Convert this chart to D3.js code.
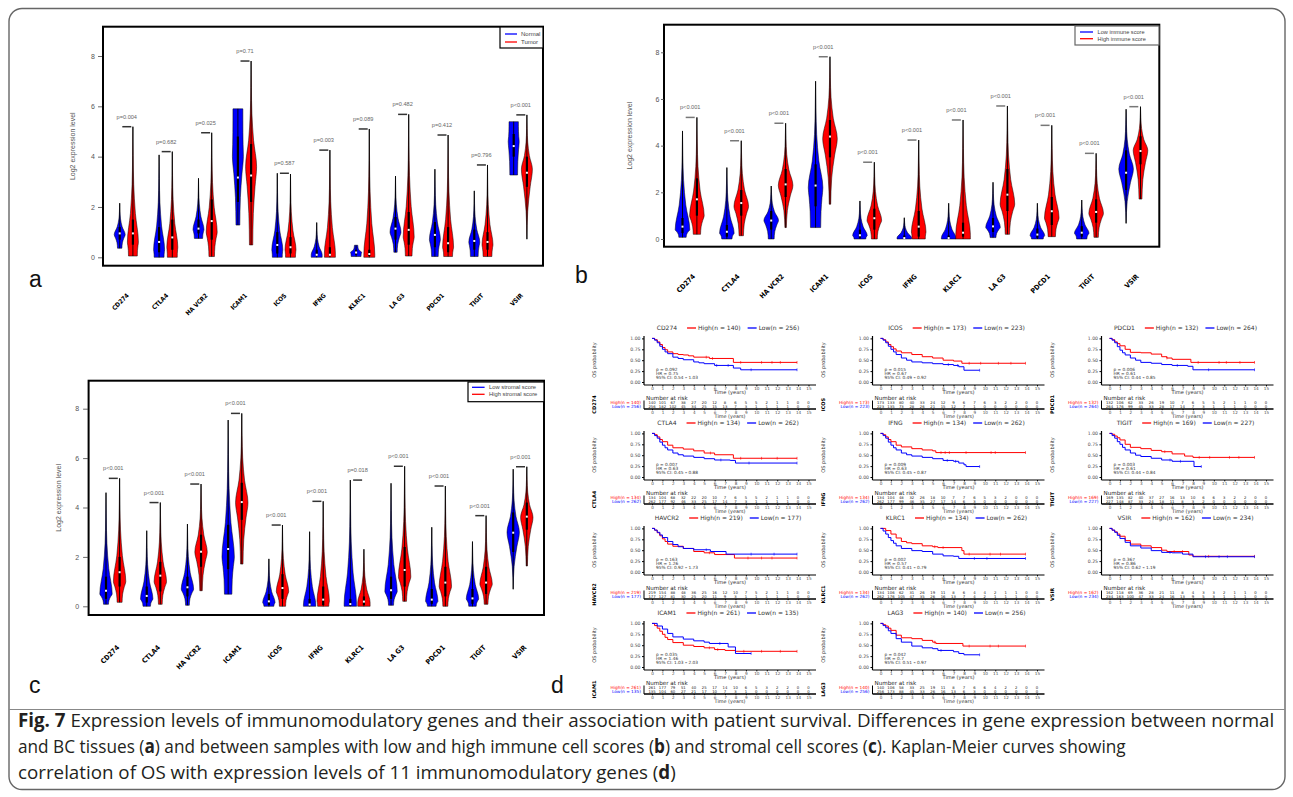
<!DOCTYPE html>
<html>
<head>
<meta charset="utf-8">
<title>Fig. 7</title>
<script src="https://cdn.jsdelivr.net/npm/d3@7"></script>
<style>
  body { margin: 0; background: #fff; }
  svg { display: block; }
</style>
</head>
<body>
<svg id="fig" width="1293" height="797"></svg>
<script>
// ---------- data ----------
const genes = ["CD274", "CTLA4", "HAVCR2", "ICAM1", "ICOS", "IFNG", "KLRC1", "LAG3", "PDCD1", "TIGIT", "VSIR"];
const geneTicks = ["CD274", "CTLA4", "HA VCR2", "ICAM1", "ICOS", "IFNG", "KLRC1", "LA G3", "PDCD1", "TIGIT", "VSIR"];
const yTicks = [0, 2, 4, 6, 8];

// violin stats: [min, q1, median, q3, max, mode, base width, top width]
const normalA = [
  [0.36, 0.7, 0.95, 1.2, 2.15, 0.9, 0.4, 0], [0.0, 0.2, 0.61, 1.2, 4.07, 0.3, 0.9, 0],
  [0.75, 0.95, 1.14, 1.5, 3.14, 1.1, 0.75, 0], [1.28, 2.2, 3.17, 4.8, 5.9, 4.0, 0.35, 0.9],
  [0.0, 0.15, 0.49, 1.0, 3.34, 0.3, 0.9, 0], [0.0, 0.05, 0.1, 0.3, 1.38, 0.1, 1, 0],
  [0.03, 0.1, 0.19, 0.3, 0.48, 0.2, 0.9, 0.3], [0.2, 0.7, 1.14, 1.6, 3.23, 1.0, 0.3, 0],
  [0.03, 0.4, 0.89, 1.4, 3.5, 0.7, 0.6, 0], [0.03, 0.3, 0.65, 1.1, 2.64, 0.6, 0.7, 0],
  [3.27, 4.0, 4.42, 4.9, 5.39, 4.6, 0.7, 0.85]
];
const tumorA = [
  [0.05, 0.5, 0.95, 1.5, 5.19, 0.6, 0.8, 0], [0.0, 0.3, 0.79, 1.5, 4.2, 0.4, 0.9, 0],
  [0.03, 0.7, 1.44, 2.3, 4.95, 1.0, 0.5, 0], [0.49, 2.2, 3.25, 4.5, 7.8, 3.6, 0.3, 0],
  [0.0, 0.15, 0.4, 0.8, 3.31, 0.3, 0.9, 0], [0.0, 0.05, 0.1, 0.4, 4.26, 0.15, 1, 0],
  [0.0, 0.05, 0.13, 0.3, 5.1, 0.1, 1, 0], [0.05, 0.5, 1.09, 1.8, 5.68, 0.8, 0.6, 0],
  [0.03, 0.2, 0.56, 1.2, 4.86, 0.4, 0.8, 0], [0.03, 0.3, 0.61, 1.0, 3.67, 0.5, 0.8, 0],
  [0.72, 2.8, 3.36, 4.0, 5.66, 3.5, 0, 0]
];
const pA = ["p=0.004", "p=0.682", "p=0.025", "p=0.71", "p=0.587", "p=0.003", "p=0.089", "p=0.482", "p=0.412", "p=0.796", "p<0.001"];

const lowImmB = [
  [0.07, 0.25, 0.53, 0.9, 4.63, 0.4, 0.5, 0], [0.0, 0.1, 0.31, 0.6, 3.06, 0.25, 0.7, 0],
  [0.0, 0.4, 0.79, 1.2, 2.27, 0.8, 0.4, 0], [0.49, 1.4, 2.29, 3.2, 6.76, 2.2, 0.7, 0],
  [0.0, 0.05, 0.16, 0.4, 1.63, 0.15, 0.8, 0], [0.0, 0.01, 0.04, 0.15, 0.91, 0.05, 1, 0],
  [0.0, 0.01, 0.04, 0.15, 1.53, 0.05, 1, 0], [0.06, 0.3, 0.54, 0.9, 2.43, 0.5, 0.4, 0],
  [0.0, 0.05, 0.19, 0.45, 1.53, 0.15, 0.8, 0], [0.0, 0.1, 0.27, 0.55, 1.67, 0.25, 0.7, 0],
  [0.67, 2.1, 2.84, 3.8, 5.56, 3.0, 0, 0]
];
const highImmB = [
  [0.2, 1.0, 1.7, 2.6, 5.21, 1.0, 0.5, 0], [0.14, 1.0, 1.54, 2.1, 4.21, 1.4, 0.3, 0],
  [0.49, 1.8, 2.34, 3.0, 4.96, 2.3, 0.1, 0], [1.49, 3.5, 4.39, 5.1, 7.81, 4.3, 0.1, 0],
  [0.0, 0.4, 0.89, 1.3, 3.29, 0.8, 0.4, 0], [0.0, 0.1, 0.53, 1.2, 4.24, 0.3, 0.9, 0],
  [0.0, 0.1, 0.27, 0.7, 5.1, 0.2, 1, 0], [0.2, 1.2, 1.9, 3.0, 5.7, 1.5, 0.3, 0],
  [0.1, 0.6, 1.19, 1.8, 4.87, 0.9, 0.5, 0], [0.07, 0.7, 1.16, 1.7, 3.67, 1.1, 0.3, 0],
  [1.71, 3.2, 3.77, 4.4, 5.67, 3.8, 0.2, 0]
];
const pB = ["p<0.001", "p<0.001", "p<0.001", "p<0.001", "p<0.001", "p<0.001", "p<0.001", "p<0.001", "p<0.001", "p<0.001", "p<0.001"];

const lowStrC = [
  [0.08, 0.3, 0.63, 1.2, 4.6, 0.5, 0.4, 0], [0.0, 0.15, 0.42, 0.8, 3.06, 0.3, 0.6, 0],
  [0.04, 0.4, 0.77, 1.2, 3.33, 0.7, 0.3, 0], [0.49, 1.5, 2.32, 3.3, 7.54, 2.0, 0.6, 0],
  [0.0, 0.05, 0.2, 0.5, 1.92, 0.15, 0.8, 0], [0.0, 0.01, 0.07, 0.3, 3.02, 0.05, 1, 0],
  [0.0, 0.02, 0.09, 0.3, 5.11, 0.1, 1, 0], [0.04, 0.3, 0.65, 1.2, 4.98, 0.6, 0.4, 0],
  [0.0, 0.1, 0.27, 0.7, 3.2, 0.2, 0.7, 0], [0.0, 0.1, 0.32, 0.7, 2.62, 0.3, 0.6, 0],
  [0.69, 2.2, 2.98, 3.8, 5.55, 3.0, 0, 0]
];
const highStrC = [
  [0.16, 0.8, 1.38, 2.0, 5.18, 1.0, 0.4, 0], [0.08, 0.6, 1.24, 1.8, 4.2, 1.0, 0.3, 0],
  [0.63, 1.6, 2.21, 2.9, 4.95, 2.2, 0.2, 0], [1.71, 3.5, 4.22, 5.0, 7.81, 4.2, 0.2, 0],
  [0.0, 0.3, 0.74, 1.3, 3.29, 0.6, 0.5, 0], [0.0, 0.05, 0.27, 0.8, 4.25, 0.2, 0.9, 0],
  [0.0, 0.05, 0.19, 0.4, 2.31, 0.15, 1, 0], [0.2, 0.8, 1.47, 2.4, 5.67, 1.2, 0.3, 0],
  [0.0, 0.4, 0.96, 1.6, 4.87, 0.8, 0.4, 0], [0.08, 0.5, 0.96, 1.6, 3.67, 0.9, 0.3, 0],
  [1.63, 3.1, 3.63, 4.2, 5.65, 3.6, 0.1, 0]
];
const pC = ["p<0.001", "p<0.001", "p<0.001", "p<0.001", "p<0.001", "p<0.001", "p=0.018", "p<0.001", "p<0.001", "p<0.001", "p<0.001"];

// Kaplan-Meier panels (row-major grid order)
const kmGenes = ["CD274", "ICOS", "PDCD1", "CTLA4", "IFNG", "TIGIT", "HAVCR2", "KLRC1", "VSIR", "ICAM1", "LAG3"];
const kmN = [[140, 256], [173, 223], [132, 264], [134, 262], [134, 262], [169, 227], [219, 177], [134, 262], [162, 234], [261, 135], [140, 256]];
const kmStats = [
  ["0.092", "0.75", "0.54", "1.03"], ["0.015", "0.67", "0.49", "0.92"], ["0.006", "0.61", "0.44", "0.85"],
  ["0.007", "0.63", "0.45", "0.88"], ["0.009", "0.63", "0.45", "0.87"], ["0.003", "0.61", "0.44", "0.84"],
  ["0.163", "1.26", "0.92", "1.73"], ["0.002", "0.57", "0.41", "0.79"], ["0.367", "0.86", "0.62", "1.19"],
  ["0.035", "1.46", "1.03", "2.03"], ["0.042", "0.7", "0.51", "0.97"]
];
const kmYears = [0, 1, 2, 3, 4, 5, 6, 7, 8, 9, 10, 11, 12, 13, 14, 15];
const kmHigh = [
  [[0,1],[0.25,0.97],[0.5,0.92],[0.75,0.86],[1,0.79],[1.25,0.74],[1.5,0.69],[2,0.65],[2.5,0.63],[3,0.62],[3.5,0.6],[4,0.57],[5.5,0.54],[7.8,0.45],[13.9,0.45]],
  [[0,1],[0.25,0.97],[0.5,0.92],[0.75,0.86],[1,0.81],[1.25,0.76],[1.5,0.71],[2,0.67],[3,0.63],[4,0.58],[5,0.55],[6,0.5],[7,0.48],[7.8,0.43],[13.9,0.43]],
  [[0,1],[0.25,0.97],[0.5,0.92],[0.75,0.88],[1,0.83],[1.5,0.75],[2,0.68],[3,0.67],[4,0.64],[5,0.58],[5.5,0.55],[6,0.52],[7.8,0.45],[13.9,0.45]],
  [[0,1],[0.25,0.97],[0.5,0.92],[0.75,0.86],[1,0.81],[1.5,0.73],[2,0.67],[3,0.64],[4,0.6],[5,0.55],[6,0.51],[7.8,0.43],[13.9,0.43]],
  [[0,1],[0.25,0.97],[0.5,0.92],[0.75,0.86],[1,0.81],[1.5,0.73],[2,0.69],[3,0.65],[4,0.62],[5,0.6],[5.3,0.56],[13.9,0.56]],
  [[0,1],[0.25,0.98],[0.5,0.94],[0.75,0.9],[1,0.85],[1.5,0.75],[2,0.68],[3,0.65],[4,0.61],[5,0.58],[6,0.53],[7.2,0.48],[8,0.45],[13.9,0.45]],
  [[0,1],[0.25,0.96],[0.5,0.9],[0.75,0.83],[1,0.76],[1.25,0.7],[1.5,0.64],[2,0.59],[3,0.54],[4,0.47],[5,0.44],[6,0.4],[7.9,0.32],[13.9,0.32]],
  [[0,1],[0.5,0.95],[1,0.87],[1.5,0.78],[2,0.7],[2.5,0.67],[3,0.65],[4,0.6],[5,0.58],[5.5,0.56],[7.8,0.49],[8,0.41],[13.9,0.41]],
  [[0,1],[0.25,0.96],[0.5,0.92],[0.75,0.87],[1,0.82],[1.5,0.72],[2,0.64],[3,0.6],[4,0.56],[5,0.5],[5.5,0.47],[7.6,0.39],[8,0.36],[13.9,0.36]],
  [[0,1],[0.25,0.95],[0.5,0.89],[0.75,0.82],[1,0.75],[1.25,0.68],[1.5,0.63],[2,0.56],[3,0.5],[4,0.47],[5,0.44],[6,0.4],[7,0.38],[8,0.36],[13.9,0.36]],
  [[0,1],[0.25,0.97],[0.5,0.94],[0.75,0.89],[1,0.84],[1.5,0.73],[2,0.67],[3,0.65],[4,0.61],[5,0.57],[5.3,0.54],[7.9,0.48],[13.9,0.48]]
];
const kmLow = [
  [[0,1],[0.25,0.96],[0.5,0.9],[0.75,0.82],[1,0.75],[1.25,0.69],[1.5,0.65],[2,0.57],[2.5,0.54],[3,0.51],[4,0.46],[4.5,0.44],[5,0.42],[6,0.38],[7.8,0.32],[8.5,0.28],[13.9,0.28]],
  [[0,1],[0.25,0.96],[0.5,0.9],[0.75,0.82],[1,0.75],[1.25,0.69],[1.5,0.63],[2,0.55],[2.5,0.5],[3,0.46],[4,0.44],[5,0.42],[6,0.4],[7,0.38],[7.5,0.35],[8,0.27],[9.5,0.27]],
  [[0,1],[0.25,0.96],[0.5,0.9],[0.75,0.81],[1,0.73],[1.25,0.67],[1.5,0.62],[2,0.55],[2.5,0.5],[3,0.45],[4,0.43],[5,0.4],[6,0.38],[7.5,0.36],[8,0.28],[13.9,0.28]],
  [[0,1],[0.25,0.95],[0.5,0.89],[0.75,0.8],[1,0.73],[1.25,0.67],[1.5,0.62],[2,0.55],[2.5,0.51],[3,0.48],[4,0.45],[5,0.42],[6,0.39],[7.5,0.38],[8,0.32],[13.9,0.32]],
  [[0,1],[0.25,0.95],[0.5,0.89],[0.75,0.8],[1,0.73],[1.25,0.67],[1.5,0.62],[2,0.55],[2.5,0.51],[3,0.48],[4,0.45],[5,0.42],[6,0.38],[7,0.36],[7.5,0.32],[8,0.28],[8.2,0.24],[9.5,0.24]],
  [[0,1],[0.25,0.95],[0.5,0.89],[0.75,0.81],[1,0.75],[1.25,0.68],[1.5,0.62],[2,0.55],[2.5,0.5],[3,0.47],[4,0.43],[5,0.39],[6,0.36],[8.1,0.24],[8.8,0.24]],
  [[0,1],[0.25,0.96],[0.5,0.91],[0.75,0.85],[1,0.79],[1.5,0.7],[2,0.63],[2.5,0.58],[3,0.54],[4,0.51],[5.6,0.47],[7.1,0.41],[13.9,0.41]],
  [[0,1],[0.25,0.94],[0.5,0.87],[0.75,0.79],[1,0.72],[1.25,0.66],[1.5,0.6],[2,0.54],[3,0.49],[4,0.47],[5,0.41],[6,0.37],[7,0.36],[7.5,0.31],[13.9,0.31]],
  [[0,1],[0.25,0.96],[0.5,0.91],[0.75,0.84],[1,0.77],[1.5,0.68],[2,0.6],[3,0.55],[4,0.49],[5,0.45],[6,0.44],[7,0.41],[8,0.35],[13.9,0.35]],
  [[0,1],[0.5,0.94],[1,0.87],[1.5,0.77],[2,0.69],[3,0.64],[4,0.6],[5,0.57],[5.5,0.54],[7.3,0.46],[8,0.31],[9.5,0.31]],
  [[0,1],[0.25,0.95],[0.5,0.9],[0.75,0.83],[1,0.77],[1.5,0.65],[2,0.57],[3,0.48],[4,0.44],[5,0.42],[5.5,0.38],[7,0.35],[7.5,0.31],[8,0.28],[9.5,0.28]]
];
const censHigh = [
  [5.2, 5.8, 8.5, 10.5, 11.5, 12.3, 13.9], [8.5, 9.6, 11.3, 12.5, 13.9], [5.5, 8.5, 10.5, 11.2, 12.5, 13.9],
  [5.6, 8.5, 10.5, 12, 13.9], [5.8, 6.2, 6.6, 8.2, 10.6, 11, 13.9], [5.3, 8.6, 9.6, 11.5, 12.4, 13.9],
  [5.5, 9.2, 10.5, 11.5, 13.9], [5.2, 6, 8.5, 10.5, 11.5, 13.9], [6.2, 7, 9.5, 13.9],
  [5.5, 6.3, 8.8, 10.5, 12.3, 13.9], [5.2, 8.5, 10.5, 11.3, 13.9]
];
const censLow = [
  [6.2, 7.3, 9.5, 13.9], [6.5, 7.4, 9.5], [6.5, 9.5, 13.9], [6.6, 9.3, 13.9], [6.4, 7.2, 9.5], [5.8, 6.8, 8.8],
  [5.2, 9.5, 11.7, 13.9], [9, 10.2, 13.9], [5.8, 9.2, 10.5, 11.3, 13.9], [6.5, 9.5], [5.8, 9.5]
];
const riskHigh = [
  [140,101,67,38,27,20,12,8,6,5,5,2,1,1,0,0], [173,133,80,40,33,24,12,9,6,7,6,3,2,2,0,0],
  [132,106,62,33,26,19,10,7,6,5,5,2,1,1,0,0], [134,104,68,32,22,20,10,7,6,5,5,2,1,1,0,0],
  [134,104,48,32,26,18,10,7,7,6,5,3,2,0,0,0], [169,135,82,40,37,27,16,13,10,6,6,3,2,2,0,0],
  [219,154,88,48,36,25,16,12,10,7,5,2,1,1,0,0], [134,106,62,31,26,19,11,8,6,4,4,2,1,1,0,0],
  [162,118,69,36,28,21,11,8,4,3,3,2,1,1,0,0], [261,177,79,51,40,25,17,14,10,6,5,3,2,2,0,0],
  [140,106,58,33,25,19,11,8,7,6,6,4,2,2,0,0]
];
const riskLow = [
  [256,182,102,45,34,25,15,13,7,3,1,1,1,1,0,0], [223,135,73,28,26,21,15,12,7,1,0,0,0,0,0,0],
  [264,176,99,45,33,28,17,14,7,3,1,1,1,0,0,0], [262,177,92,46,33,25,17,14,7,3,1,1,1,1,0,0],
  [262,177,99,46,35,27,17,14,6,3,0,0,0,0,0,0], [227,148,87,33,24,18,11,8,3,2,0,0,0,0,0,0],
  [177,127,81,30,25,20,11,9,3,1,1,1,1,1,0,0], [262,176,105,47,35,26,16,13,7,4,2,1,1,1,0,0],
  [234,163,100,47,33,24,16,13,9,5,3,1,1,1,0,0], [135,104,60,27,21,17,10,7,3,1,0,0,0,0,0,0],
  [256,173,88,45,33,26,16,13,6,3,0,0,0,0,0,0]
];

const caption = [
  [["Fig. 7", true], [" Expression levels of immunomodulatory genes and their association with patient survival. Differences in gene expression between normal", false]],
  [["and BC tissues (", false], ["a", true], [") and between samples with low and high immune cell scores (", false], ["b", true], [") and stromal cell scores (", false], ["c", true], ["). Kaplan-Meier curves showing", false]],
  [["correlation of OS with expression levels of 11 immunomodulatory genes (", false], ["d", true], [")", false]]
];

// ---------- drawing ----------
const svg = d3.select("#fig");
const RED = "#ff0000", BLUE = "#0000ff";

svg.append("rect").attr("width", 1293).attr("height", 797).attr("fill", "#fff");
svg.append("rect").attr("x", 9).attr("y", 8.5).attr("width", 1276).attr("height", 781)
  .attr("rx", 13).attr("fill", "none").attr("stroke", "#666").attr("stroke-width", 1.4);
svg.append("line").attr("x1", 9).attr("x2", 1285).attr("y1", 709.5).attr("y2", 709.5)
  .attr("stroke", "#888").attr("stroke-width", 1);

// violin outline from summary stats
function profile(s) {
  const [mn, , , , mx, mode, bw, tw] = s;
  const pts = [];
  const lowK = [0, 0.4, 0.75, 1], lowG = [0, 0.15, 0.6, 1];
  lowK.forEach((k, i) => pts.push([mn + (mode - mn) * k, bw + (1 - bw) * lowG[i]]));
  const upK = [0.25, 0.5, 0.75, 1], upH = [0.45, 0.15, 0.05, 0];
  upK.forEach((k, i) => pts.push([mode + (mx - mode) * k, tw + (1 - tw) * upH[i]]));
  return pts.filter((p, i) => i === 0 || p[0] > pts[i - 1][0] + 1e-6);
}

function violinPanel(c) {
  const g = svg.append("g");
  const y = d3.scaleLinear().domain([0, 8]).range([c.y0, c.y8]);
  const x = d3.scalePoint().domain(genes).range(c.xr);

  [[c.lo, BLUE, -1], [c.hi, RED, 1]].forEach(([stats, col, side]) => {
    stats.forEach((s, i) => {
      const cx = x(genes[i]) + side * c.off;
      const area = d3.area()
        .y(d => y(d[0]))
        .x0(d => cx - d[1] * c.w)
        .x1(d => cx + d[1] * c.w)
        .curve(d3.curveMonotoneY);
      g.append("path").attr("d", area(profile(s)))
        .attr("fill", col).attr("stroke", "#000").attr("stroke-width", 0.5);
      g.append("line").attr("x1", cx).attr("x2", cx).attr("y1", y(s[0])).attr("y2", y(s[4]))
        .attr("stroke", "#000").attr("stroke-width", 0.9);
      g.append("rect").attr("x", cx - 1.1).attr("width", 2.2)
        .attr("y", y(s[3])).attr("height", y(s[1]) - y(s[3])).attr("fill", "#000");
      g.append("rect").attr("x", cx - 1).attr("y", y(s[2]) - 1).attr("width", 2).attr("height", 2)
        .attr("fill", "#fff");
    });
  });

  // p-value brackets
  genes.forEach((gn, i) => {
    const m = Math.max(c.lo[i][4], c.hi[i][4]);
    const pc = x(gn);
    g.append("line").attr("x1", pc - 4).attr("x2", pc + 5).attr("y1", y(m)).attr("y2", y(m))
      .attr("stroke", c.brCol).attr("stroke-width", 1.5);
    g.append("text").attr("x", pc + 0.5).attr("y", y(m) - 8).attr("text-anchor", "middle")
      .attr("font-family", "Liberation Sans, Arial, sans-serif").attr("font-size", 5.6)
      .attr("fill", "#666").text(c.p[i]);
  });

  // frame
  g.append("rect").attr("x", c.box[0]).attr("y", c.box[1])
    .attr("width", c.box[2] - c.box[0]).attr("height", c.box[3] - c.box[1])
    .attr("fill", "none").attr("stroke", "#000").attr("stroke-width", 2);

  // y axis
  const ax = g.append("g").attr("transform", `translate(${c.box[0] - c.axGap},0)`)
    .call(d3.axisLeft(y).tickValues(yTicks).tickSize(c.tick).tickPadding(c.pad));
  ax.select(".domain").remove();
  ax.selectAll("line").attr("stroke", "#444").attr("stroke-width", 0.8);
  ax.selectAll("text").attr("font-family", "Liberation Sans, Arial, sans-serif")
    .attr("font-size", 7).attr("fill", "#555");

  g.append("text").attr("transform", `translate(${c.ylabX},${(c.box[1] + c.box[3]) / 2}) rotate(-90)`)
    .attr("text-anchor", "middle").attr("dy", "0.35em")
    .attr("font-family", "Liberation Sans, Arial, sans-serif").attr("font-size", 7)
    .attr("fill", "#555").text("Log2 expression level");

  // gene labels
  genes.forEach((gn, i) => {
    g.append("text")
      .attr("transform", `translate(${x(gn) + c.labDx},${c.labY}) rotate(-45)`)
      .attr("text-anchor", "end")
      .attr("font-family", "DejaVu Sans Condensed, Liberation Sans Narrow, Liberation Sans, sans-serif")
      .attr("font-weight", "bold").attr("font-size", c.labSize).attr("fill", "#000")
      .text(geneTicks[i]);
  });

  // legend
  const L = c.leg;
  g.append("rect").attr("x", L.x0).attr("y", L.y0).attr("width", L.x1 - L.x0).attr("height", L.y1 - L.y0)
    .attr("fill", "#fff").attr("stroke", L.stroke).attr("stroke-width", 1.2);
  [[BLUE, L.labels[0], L.rows[0]], [RED, L.labels[1], L.rows[1]]].forEach(([col, lab, ry]) => {
    g.append("line").attr("x1", L.lx0).attr("x2", L.lx1).attr("y1", ry).attr("y2", ry)
      .attr("stroke", col).attr("stroke-width", 1.3);
    g.append("text").attr("x", L.tx).attr("y", ry).attr("dy", "0.35em")
      .attr("font-family", "Liberation Sans, Arial, sans-serif").attr("font-size", L.size)
      .attr("fill", "#444").text(lab);
  });

  g.append("text").attr("x", c.letter[0]).attr("y", c.letter[1])
    .attr("font-family", "Liberation Sans, Arial, sans-serif").attr("font-size", 23)
    .attr("fill", "#111").text(c.letter[2]);
}

violinPanel({
  lo: normalA, hi: tumorA, p: pA, box: [103, 26.7, 543, 265.7], y0: 257.3, y8: 56,
  xr: [126.3, 520.3], off: 6.6, w: 5.5, brCol: "#333", axGap: 1, tick: 4, pad: 3, ylabX: 73,
  labDx: 3, labY: 296, labSize: 6.3,
  leg: { x0: 500, y0: 27, x1: 543, y1: 48, lx0: 505, lx1: 517, tx: 521, rows: [34, 42], size: 6, stroke: "#000",
    labels: ["Normal", "Tumor"] },
  letter: [29, 287, "a"]
});
violinPanel({
  lo: lowImmB, hi: highImmB, p: pB, box: [664, 24.7, 1159.3, 246.7], y0: 239, y8: 52.3,
  xr: [689.7, 1133.3], off: 7.2, w: 7.3, brCol: "#777", axGap: 0, tick: 3, pad: 1.5, ylabX: 630,
  labDx: 6, labY: 277, labSize: 7,
  leg: { x0: 1075, y0: 26, x1: 1159, y1: 45, lx0: 1080, lx1: 1093, tx: 1097.6, rows: [32, 38.7], size: 5.6, stroke: "#666",
    labels: ["Low immune score", "High immune score"] },
  letter: [575, 283, "b"]
});
violinPanel({
  lo: lowStrC, hi: highStrC, p: pC, box: [88.6, 380.7, 544, 615], y0: 606.3, y8: 408.7,
  xr: [112.8, 520], off: 6.8, w: 6.2, brCol: "#333", axGap: 0.5, tick: 5, pad: 4, ylabX: 59,
  labDx: 7, labY: 648, labSize: 7,
  leg: { x0: 468, y0: 382, x1: 544, y1: 401.7, lx0: 472, lx1: 484.6, tx: 489, rows: [387.3, 394.3], size: 5.8, stroke: "#000",
    labels: ["Low stromal score", "High stromal score"] },
  letter: [29, 693, "c"]
});

// ---------- Kaplan-Meier panels ----------
const kmColX = [652, 880.5, 1109.5];
const kmRowY = [328, 423, 518, 613];
const KMF = "DejaVu Sans, Verdana, sans-serif";

function survAt(curve, t) {
  let s = curve[0][1];
  curve.forEach(p => { if (p[0] <= t) s = p[1]; });
  return s;
}

kmGenes.forEach((gene, i) => {
  const X0 = kmColX[i % 3], T = kmRowY[Math.floor(i / 3)];
  const g = svg.append("g");
  const x = d3.scaleLinear().domain([0, 15]).range([X0, X0 + 156.5]);
  const y = d3.scaleLinear().domain([0, 1]).range([T + 54, T + 10.4]);

  // title legend
  const tg = g.append("g").attr("font-family", KMF).attr("font-size", 6).attr("fill", "#333");
  const t1 = tg.append("text").text(gene);
  let cx = t1.node().getComputedTextLength() + 10;
  tg.append("line").attr("x1", cx).attr("x2", cx + 9).attr("y1", -2).attr("y2", -2)
    .attr("stroke", RED).attr("stroke-width", 1.3);
  cx += 11;
  const t2 = tg.append("text").attr("x", cx).text(`High(n = ${kmN[i][0]})`);
  cx += t2.node().getComputedTextLength() + 7;
  tg.append("line").attr("x1", cx).attr("x2", cx + 9).attr("y1", -2).attr("y2", -2)
    .attr("stroke", BLUE).attr("stroke-width", 1.3);
  cx += 11;
  const t3 = tg.append("text").attr("x", cx).text(`Low(n = ${kmN[i][1]})`);
  const total = cx + t3.node().getComputedTextLength();
  tg.attr("transform", `translate(${X0 + 76 - total / 2},${T + 2})`);

  // axes lines
  g.append("line").attr("x1", X0 - 8).attr("x2", X0 - 8).attr("y1", T + 8).attr("y2", T + 57)
    .attr("stroke", "#000").attr("stroke-width", 1.2);
  g.append("line").attr("x1", X0 - 8).attr("x2", X0 + 164).attr("y1", T + 57).attr("y2", T + 57)
    .attr("stroke", "#000").attr("stroke-width", 1.2);

  const ya = g.append("g").attr("transform", `translate(${X0 - 8},0)`)
    .call(d3.axisLeft(y).tickValues([0, 0.25, 0.5, 0.75, 1]).tickFormat(d3.format(".2f")).tickSize(2).tickPadding(1.5));
  ya.select(".domain").remove();
  ya.selectAll("text").attr("font-family", KMF).attr("font-size", 4.6).attr("fill", "#4d4d4d");

  const xa = g.append("g").attr("transform", `translate(0,${T + 57})`)
    .call(d3.axisBottom(x).tickValues(kmYears).tickFormat(d3.format("d")).tickSize(1.4).tickPadding(0.4));
  xa.select(".domain").remove();
  xa.selectAll("text").attr("font-family", KMF).attr("font-size", 4.2).attr("fill", "#4d4d4d");

  g.append("text").attr("x", X0 + 78).attr("y", T + 66.3).attr("text-anchor", "middle")
    .attr("font-family", KMF).attr("font-size", 5.1).attr("fill", "#333").text("Time (years)");
  g.append("text").attr("transform", `translate(${X0 - 56},${T + 32}) rotate(-90)`)
    .attr("text-anchor", "middle").attr("font-family", KMF).attr("font-size", 5)
    .attr("fill", "#333").text("OS probability");

  // curves
  const line = d3.line().x(d => x(d[0])).y(d => y(d[1])).curve(d3.curveStepAfter);
  [[kmHigh[i], censHigh[i], RED], [kmLow[i], censLow[i], BLUE]].forEach(([curve, cens, col]) => {
    g.append("path").attr("d", line(curve)).attr("fill", "none").attr("stroke", col).attr("stroke-width", 1);
    cens.forEach(t => {
      const s = survAt(curve, t);
      g.append("line").attr("x1", x(t)).attr("x2", x(t)).attr("y1", y(s) - 1.4).attr("y2", y(s) + 1.4)
        .attr("stroke", col).attr("stroke-width", 0.6);
    });
  });

  // statistics
  const st = kmStats[i];
  const sg = g.append("g").attr("font-family", KMF).attr("font-size", 4.3).attr("fill", "#333");
  sg.append("text").attr("x", X0 + 4).attr("y", T + 42.5).text(`p = ${st[0]}`);
  sg.append("text").attr("x", X0 + 4).attr("y", T + 46.8).text(`HR = ${st[1]}`);
  const ci = sg.append("text").attr("x", X0 + 4).attr("y", T + 51.1);
  ci.append("tspan").text(`95% CI: ${st[2]} `);
  ci.append("tspan").attr("font-weight", "bold").attr("fill", "#000").text("–");
  ci.append("tspan").text(` ${st[3]}`);

  // risk table
  g.append("text").attr("x", X0 - 6).attr("y", T + 72).attr("font-family", KMF)
    .attr("font-size", 5.6).attr("fill", "#222").text("Number at risk");
  [[riskHigh[i], T + 76], [riskLow[i], T + 79.9]].forEach(([vals, ry]) => {
    vals.forEach((v, k) => {
      g.append("text").attr("x", x(kmYears[k])).attr("y", ry).attr("text-anchor", "middle")
        .attr("font-family", KMF).attr("font-size", 3.8).attr("fill", "#222").text(v);
    });
  });
  [[`High(n = ${kmN[i][0]})`, T + 76, RED], [`Low(n = ${kmN[i][1]})`, T + 79.9, BLUE]].forEach(([lab, ry, col]) => {
    g.append("text").attr("x", X0 - 11).attr("y", ry).attr("text-anchor", "end")
      .attr("font-family", KMF).attr("font-size", 4.3).attr("fill", col).text(lab);
  });
  g.append("line").attr("x1", X0 - 8).attr("x2", X0 - 8).attr("y1", T + 72.5).attr("y2", T + 81)
    .attr("stroke", "#000").attr("stroke-width", 1);
  g.append("line").attr("x1", X0 - 8).attr("x2", X0 + 164).attr("y1", T + 81).attr("y2", T + 81)
    .attr("stroke", "#000").attr("stroke-width", 1.3);
  const ra = g.append("g").attr("transform", `translate(0,${T + 81})`)
    .call(d3.axisBottom(x).tickValues(kmYears).tickFormat(d3.format("d")).tickSize(1.2).tickPadding(0.4));
  ra.select(".domain").remove();
  ra.selectAll("text").attr("font-family", KMF).attr("font-size", 4.1).attr("fill", "#4d4d4d");
  g.append("text").attr("x", X0 + 78).attr("y", T + 89.8).attr("text-anchor", "middle")
    .attr("font-family", KMF).attr("font-size", 4.9).attr("fill", "#333").text("Time (years)");
  g.append("text").attr("transform", `translate(${X0 - 56},${T + 76.5}) rotate(-90)`)
    .attr("text-anchor", "middle").attr("font-family", KMF).attr("font-size", 5)
    .attr("font-weight", "bold").attr("fill", "#000").text(gene);
});

svg.append("text").attr("x", 551).attr("y", 693)
  .attr("font-family", "Liberation Sans, Arial, sans-serif").attr("font-size", 23)
  .attr("fill", "#111").text("d");

// ---------- caption ----------
const capBase = [727, 753, 779];
const capWidth = [1257, 1108, 658];
caption.forEach((parts, li) => {
  const t = svg.append("text").attr("y", 0)
    .attr("font-family", "Open Sans, Noto Sans, sans-serif").attr("font-size", 19).attr("fill", "#231f20");
  parts.forEach(([s, b]) => t.append("tspan").attr("font-weight", b ? "bold" : "normal").text(s));
  const k = capWidth[li] / t.node().getComputedTextLength();
  t.attr("transform", `translate(18,${capBase[li]}) scale(${k},1)`);
});
</script>
</body>
</html>
